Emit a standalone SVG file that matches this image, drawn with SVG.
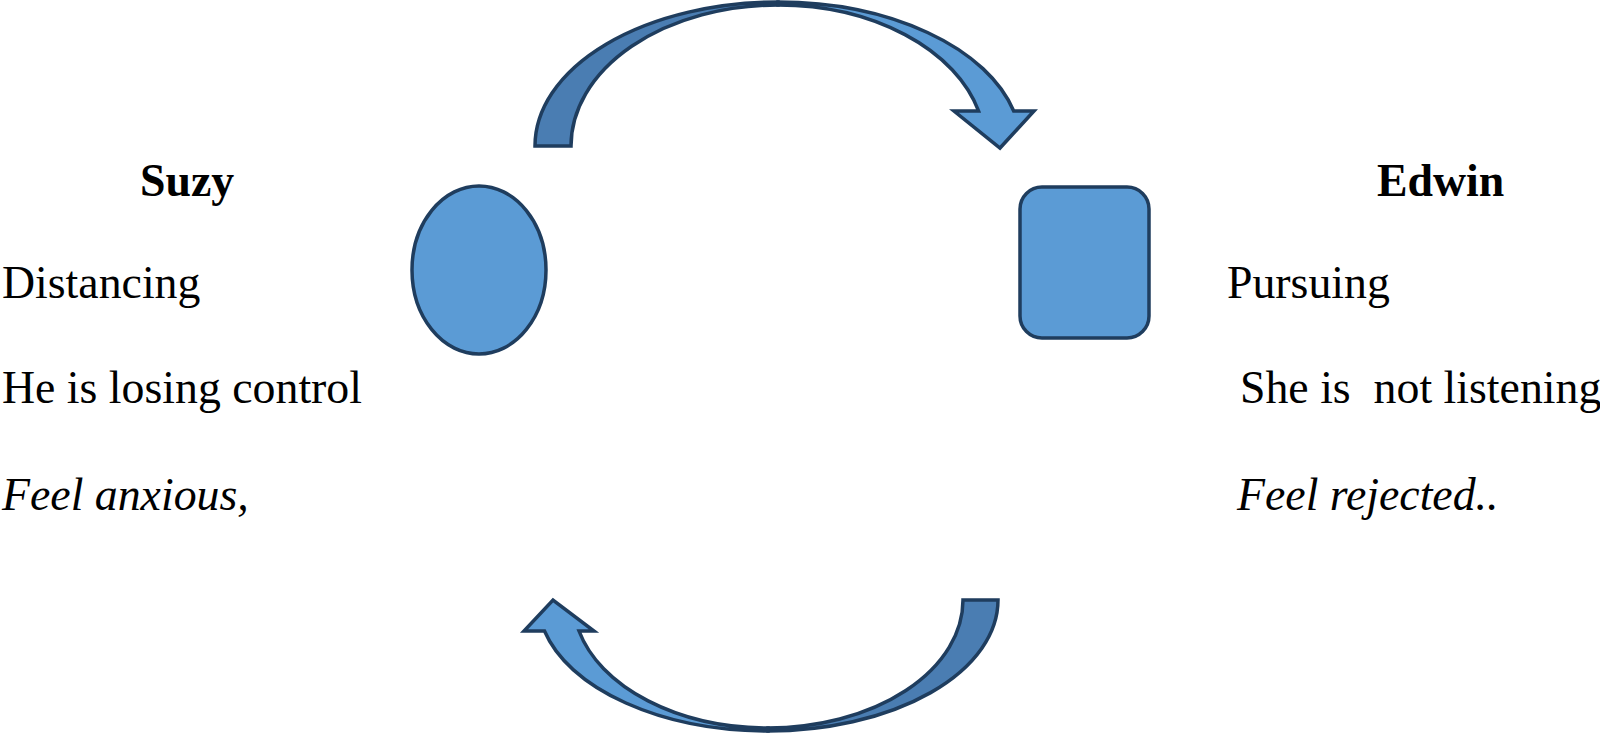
<svg xmlns="http://www.w3.org/2000/svg" width="1600" height="733" viewBox="0 0 1600 733">
<style>
.shape{stroke:#1f3d5e;stroke-width:3.5;stroke-linejoin:miter}
.light{fill:#5b9bd5}
.dark{fill:#4a7db2}
.t{font-family:"Liberation Serif","Times New Roman",serif;font-size:45.8px;fill:#000}
.b{font-weight:bold}
.i{font-style:italic}
</style>
<rect width="1600" height="733" fill="#ffffff"/>
<g id="connectors">
<g id="arrow-top">
<path class="shape dark" d="M535,146 A243,144 0 0 1 778,2 L778,5 A207,141 0 0 0 571,146 Z"/>
<path class="shape light" d="M778,2 A243,144 0 0 1 1013.7,111 L1034,111 L1000,148 L954,111 L978.6,111 A207,141 0 0 0 778,5 Z"/>
</g>
<g id="arrow-bottom">
<path class="shape dark" d="M998,600 A230,131 0 0 1 768,731 L768,728 A195,128 0 0 0 963,600 Z"/>
<path class="shape light" d="M768,731 A230,131 0 0 1 544.5,631 L524,631 L553,600 L594,631 L579,631 A195,128 0 0 0 768,728 Z"/>
</g>
</g>
<g id="node-suzy">
<ellipse class="shape light" cx="479" cy="270" rx="67" ry="84"/>
<text class="t b" x="140" y="196">Suzy</text>
<text class="t" x="2" y="298">Distancing</text>
<text class="t" x="2" y="403">He is losing control</text>
<text class="t i" x="2" y="510">Feel anxious,</text>
</g>
<g id="node-edwin">
<rect class="shape light" x="1020" y="187" width="129" height="151" rx="22" ry="22"/>
<text class="t b" x="1377" y="196">Edwin</text>
<text class="t" x="1227" y="298">Pursuing</text>
<text class="t" x="1240" y="403" xml:space="preserve">She is  not listening</text>
<text class="t i" x="1237" y="510">Feel rejected..</text>
</g>
</svg>
